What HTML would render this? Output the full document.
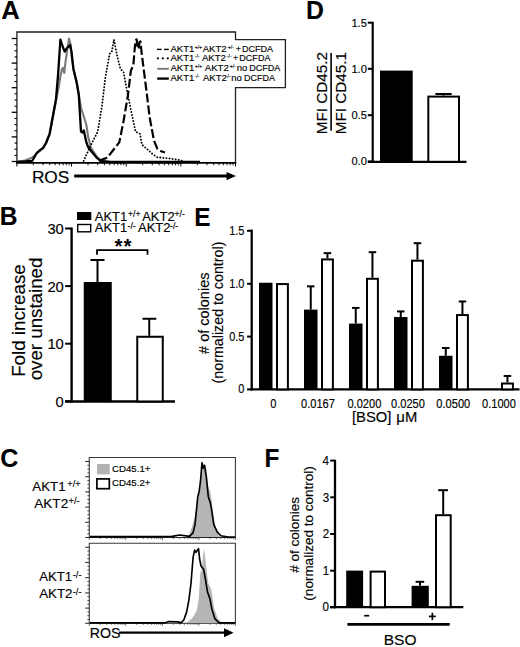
<!DOCTYPE html>
<html><head><meta charset="utf-8"><style>
html,body{margin:0;padding:0;background:#fff;}
svg{display:block;}
text{font-family:"Liberation Sans",sans-serif;fill:#000;stroke:#000;stroke-width:0.15px;}
text[font-weight="bold"]{stroke-width:0.1px;}
</style></head><body>
<svg width="520" height="647" viewBox="0 0 520 647" font-family="Liberation Sans, sans-serif">
<rect width="520" height="647" fill="#fff"/>
<text transform="translate(1.26,18.8)" font-size="25.6" font-weight="bold" >A</text>
<text transform="translate(-0.14,224.6) scale(0.96,1)" font-size="25.6" font-weight="bold" >B</text>
<text transform="translate(0.17,466.6) scale(0.98,1)" font-size="25.6" font-weight="bold" >C</text>
<text transform="translate(306.04,18.8) scale(0.97,1)" font-size="25.6" font-weight="bold" >D</text>
<text transform="translate(194.37,225.9) scale(0.95,1)" font-size="25.6" font-weight="bold" >E</text>
<text transform="translate(264.57,466.9) scale(0.95,1)" font-size="25.6" font-weight="bold" >F</text>
<path d="M16.9,162.6 V32 H235.5 V39.6 H285.4 V87.7 H235.5 V162.6" fill="none" stroke="#222" stroke-width="1.3"/>
<line x1="16.2" y1="162.8" x2="236.2" y2="162.8" stroke="#000" stroke-width="1.8" />
<line x1="11.7" y1="38.5" x2="16.9" y2="38.5" stroke="#000" stroke-width="1.3" />
<line x1="14.5" y1="44.65" x2="16.9" y2="44.65" stroke="#000" stroke-width="1.1" />
<line x1="14.5" y1="50.8" x2="16.9" y2="50.8" stroke="#000" stroke-width="1.1" />
<line x1="14.5" y1="56.95" x2="16.9" y2="56.95" stroke="#000" stroke-width="1.1" />
<line x1="11.7" y1="63.1" x2="16.9" y2="63.1" stroke="#000" stroke-width="1.3" />
<line x1="14.5" y1="69.25" x2="16.9" y2="69.25" stroke="#000" stroke-width="1.1" />
<line x1="14.5" y1="75.4" x2="16.9" y2="75.4" stroke="#000" stroke-width="1.1" />
<line x1="14.5" y1="81.55" x2="16.9" y2="81.55" stroke="#000" stroke-width="1.1" />
<line x1="11.7" y1="87.7" x2="16.9" y2="87.7" stroke="#000" stroke-width="1.3" />
<line x1="14.5" y1="93.85" x2="16.9" y2="93.85" stroke="#000" stroke-width="1.1" />
<line x1="14.5" y1="100" x2="16.9" y2="100" stroke="#000" stroke-width="1.1" />
<line x1="14.5" y1="106.15" x2="16.9" y2="106.15" stroke="#000" stroke-width="1.1" />
<line x1="11.7" y1="112.3" x2="16.9" y2="112.3" stroke="#000" stroke-width="1.3" />
<line x1="14.5" y1="118.45" x2="16.9" y2="118.45" stroke="#000" stroke-width="1.1" />
<line x1="14.5" y1="124.6" x2="16.9" y2="124.6" stroke="#000" stroke-width="1.1" />
<line x1="14.5" y1="130.75" x2="16.9" y2="130.75" stroke="#000" stroke-width="1.1" />
<line x1="11.7" y1="136.9" x2="16.9" y2="136.9" stroke="#000" stroke-width="1.3" />
<line x1="14.5" y1="143.05" x2="16.9" y2="143.05" stroke="#000" stroke-width="1.1" />
<line x1="14.5" y1="149.2" x2="16.9" y2="149.2" stroke="#000" stroke-width="1.1" />
<line x1="14.5" y1="155.35" x2="16.9" y2="155.35" stroke="#000" stroke-width="1.1" />
<line x1="11.7" y1="161.5" x2="16.9" y2="161.5" stroke="#000" stroke-width="1.3" />
<line x1="16.9" y1="162.8" x2="16.9" y2="166.5" stroke="#000" stroke-width="1" />
<line x1="33.35" y1="162.8" x2="33.35" y2="165.3" stroke="#000" stroke-width="0.9" />
<line x1="42.97" y1="162.8" x2="42.97" y2="165.3" stroke="#000" stroke-width="0.9" />
<line x1="49.8" y1="162.8" x2="49.8" y2="165.3" stroke="#000" stroke-width="0.9" />
<line x1="55.1" y1="162.8" x2="55.1" y2="165.3" stroke="#000" stroke-width="0.9" />
<line x1="59.43" y1="162.8" x2="59.43" y2="165.3" stroke="#000" stroke-width="0.9" />
<line x1="63.08" y1="162.8" x2="63.08" y2="165.3" stroke="#000" stroke-width="0.9" />
<line x1="66.25" y1="162.8" x2="66.25" y2="165.3" stroke="#000" stroke-width="0.9" />
<line x1="69.05" y1="162.8" x2="69.05" y2="165.3" stroke="#000" stroke-width="0.9" />
<line x1="71.55" y1="162.8" x2="71.55" y2="166.5" stroke="#000" stroke-width="1" />
<line x1="88" y1="162.8" x2="88" y2="165.3" stroke="#000" stroke-width="0.9" />
<line x1="97.62" y1="162.8" x2="97.62" y2="165.3" stroke="#000" stroke-width="0.9" />
<line x1="104.45" y1="162.8" x2="104.45" y2="165.3" stroke="#000" stroke-width="0.9" />
<line x1="109.75" y1="162.8" x2="109.75" y2="165.3" stroke="#000" stroke-width="0.9" />
<line x1="114.08" y1="162.8" x2="114.08" y2="165.3" stroke="#000" stroke-width="0.9" />
<line x1="117.73" y1="162.8" x2="117.73" y2="165.3" stroke="#000" stroke-width="0.9" />
<line x1="120.9" y1="162.8" x2="120.9" y2="165.3" stroke="#000" stroke-width="0.9" />
<line x1="123.7" y1="162.8" x2="123.7" y2="165.3" stroke="#000" stroke-width="0.9" />
<line x1="126.2" y1="162.8" x2="126.2" y2="166.5" stroke="#000" stroke-width="1" />
<line x1="142.65" y1="162.8" x2="142.65" y2="165.3" stroke="#000" stroke-width="0.9" />
<line x1="152.27" y1="162.8" x2="152.27" y2="165.3" stroke="#000" stroke-width="0.9" />
<line x1="159.1" y1="162.8" x2="159.1" y2="165.3" stroke="#000" stroke-width="0.9" />
<line x1="164.4" y1="162.8" x2="164.4" y2="165.3" stroke="#000" stroke-width="0.9" />
<line x1="168.73" y1="162.8" x2="168.73" y2="165.3" stroke="#000" stroke-width="0.9" />
<line x1="172.38" y1="162.8" x2="172.38" y2="165.3" stroke="#000" stroke-width="0.9" />
<line x1="175.55" y1="162.8" x2="175.55" y2="165.3" stroke="#000" stroke-width="0.9" />
<line x1="178.35" y1="162.8" x2="178.35" y2="165.3" stroke="#000" stroke-width="0.9" />
<line x1="180.85" y1="162.8" x2="180.85" y2="166.5" stroke="#000" stroke-width="1" />
<line x1="197.3" y1="162.8" x2="197.3" y2="165.3" stroke="#000" stroke-width="0.9" />
<line x1="206.92" y1="162.8" x2="206.92" y2="165.3" stroke="#000" stroke-width="0.9" />
<line x1="213.75" y1="162.8" x2="213.75" y2="165.3" stroke="#000" stroke-width="0.9" />
<line x1="219.05" y1="162.8" x2="219.05" y2="165.3" stroke="#000" stroke-width="0.9" />
<line x1="223.38" y1="162.8" x2="223.38" y2="165.3" stroke="#000" stroke-width="0.9" />
<line x1="227.03" y1="162.8" x2="227.03" y2="165.3" stroke="#000" stroke-width="0.9" />
<line x1="230.2" y1="162.8" x2="230.2" y2="165.3" stroke="#000" stroke-width="0.9" />
<line x1="233" y1="162.8" x2="233" y2="165.3" stroke="#000" stroke-width="0.9" />
<line x1="235.5" y1="162.8" x2="235.5" y2="166.5" stroke="#000" stroke-width="1" />
<polyline points="17,161.8 25,160.5 30,158.6 33,157 36.6,153.5 43.1,148.2 46,143.5 49.6,134.5 52.8,117.5 56,100.5 58.5,88 60.5,76 62,69 63,67.8 64.3,73 65.5,62 67.5,48 69,38.6 70.5,44 72,58 73.6,69.5 76.6,82.5 78.8,95 81,108 84,117 86.4,125 88,136 90.7,147 96.6,156.5 101,160.5 110,162 200,162" fill="none" stroke="#7a7a7a" stroke-width="2.1" stroke-linejoin="round" />
<polyline points="17,162 25,161.5 32.3,160.8 36.6,153.2 40,150.2 43.1,147.8 46,143 49.6,133.8 52.8,116.5 56,99.2 58.2,73.2 60.4,39.7 62.5,46 64.7,51.6 67,48 70.1,45.1 71.5,52 73.4,68.9 76.6,81.9 78.8,94.9 80,115 81,131.6 82.5,132.5 83.8,130.5 86.4,142.4 88,146.8 90.7,150.5 96.6,157.6 101,161.2 110,162 200,162" fill="none" stroke="#000" stroke-width="2.3" stroke-linejoin="round" />
<polyline points="83.6,161 90,146.8 97.7,131.6 102,105.7 105.3,77.6 109.6,53.8 111.8,51.6 113.9,39.7 117.2,56 120.4,68.9 123.6,72.2 126.9,90.5 132.3,116.5 135.5,131.6 139.9,133.8 142,144.6 147.7,149.6 152.8,154.3 157.3,157.3 168.8,158.3 180.4,160.2 184.2,161.6" fill="none" stroke="#000" stroke-width="1.9" stroke-linejoin="round" stroke-dasharray="0.1 3" stroke-linecap="round"/>
<polyline points="98.8,160.8 107.4,157.6 115,147.8 119.3,142.4 123.6,120.8 128,94.9 130.8,71.1 133.4,64.6 134.6,50 135.6,40.5 136.6,39.3 137.6,47 138.6,49 139.6,42 140.5,41.5 141.4,51 142.6,60.5 146.4,90.5 149.6,117 153.9,140.3 157.3,148.7 161.2,151.2 165,152.5" fill="none" stroke="#000" stroke-width="2.2" stroke-linejoin="round" stroke-dasharray="9 3"/>
<line x1="156.9" y1="49.4" x2="161.6" y2="49.4" stroke="#000" stroke-width="1.4" />
<line x1="164" y1="49.4" x2="168.7" y2="49.4" stroke="#000" stroke-width="1.4" />
<circle cx="157.9" cy="58.3" r="1.1" fill="#000"/>
<circle cx="162.85" cy="58.3" r="1.1" fill="#000"/>
<circle cx="167.8" cy="58.3" r="1.1" fill="#000"/>
<line x1="157.2" y1="68.8" x2="168.8" y2="68.8" stroke="#777" stroke-width="1.9" />
<line x1="157.2" y1="78.6" x2="168.8" y2="78.6" stroke="#000" stroke-width="2.3" />
<text transform="translate(170.48,51.5) scale(1.01,1)" font-size="9.5" >AKT1</text>
<text transform="translate(194.65,48.6)" font-size="5.2" >+/+</text>
<text transform="translate(202.68,51.5) scale(1.01,1)" font-size="9.5" >AKT2</text>
<text transform="translate(227.65,48.6)" font-size="5.2" >+/-</text>
<text transform="translate(236,51.5)" font-size="8.2" >+</text>
<text transform="translate(242.06,51.5) scale(0.95,1)" font-size="9.5" >DCFDA</text>
<text transform="translate(170.48,61.2) scale(1.01,1)" font-size="9.5" >AKT1</text>
<text transform="translate(194.67,58.3)" font-size="5.2" >-/-</text>
<text transform="translate(201.88,61.2) scale(1.01,1)" font-size="9.5" >AKT2</text>
<text transform="translate(226.57,58.3)" font-size="5.2" >-/-</text>
<text transform="translate(233.3,61.2)" font-size="8.2" >+</text>
<text transform="translate(239.36,61.2) scale(0.95,1)" font-size="9.5" >DCFDA</text>
<text transform="translate(170.48,71.2) scale(1.01,1)" font-size="9.5" >AKT1</text>
<text transform="translate(194.65,68.3)" font-size="5.2" >+/+</text>
<text transform="translate(204.78,71.2) scale(1.01,1)" font-size="9.5" >AKT2</text>
<text transform="translate(229.65,68.3)" font-size="5.2" >+/-</text>
<text transform="translate(236.77,71.2)" font-size="9.5" >no</text>
<text transform="translate(249.26,71.2) scale(0.95,1)" font-size="9.5" >DCFDA</text>
<text transform="translate(170.48,80.9) scale(1.01,1)" font-size="9.5" >AKT1</text>
<text transform="translate(194.67,78)" font-size="5.2" >-/-</text>
<text transform="translate(202.88,80.9) scale(1.01,1)" font-size="9.5" >AKT2</text>
<text transform="translate(225.87,78)" font-size="5.2" >-/-</text>
<text transform="translate(231.17,80.9)" font-size="9.5" >no</text>
<text transform="translate(244.06,80.9) scale(0.95,1)" font-size="9.5" >DCFDA</text>
<text transform="translate(31.88,182.6) scale(1.03,1)" font-size="16.8" >ROS</text>
<line x1="74.2" y1="175.9" x2="228" y2="175.9" stroke="#000" stroke-width="3" />
<polygon points="226.5,171.9 236,175.9 226.5,180.2" fill="#000"/>
<rect x="77" y="212" width="14.3" height="8" fill="#000" stroke="none" stroke-width="0"/>
<rect x="77.7" y="224.5" width="13" height="7.3" fill="#fff" stroke="#000" stroke-width="1.4"/>
<text transform="translate(94.77,220.5) scale(1.03,1)" font-size="12.6" >AKT1</text>
<text transform="translate(128.08,217.2)" font-size="8.6" >+/+</text>
<text transform="translate(142.17,220.5) scale(1.03,1)" font-size="12.6" >AKT2</text>
<text transform="translate(174.58,217.2)" font-size="8.6" >+/-</text>
<text transform="translate(94.77,232) scale(1.03,1)" font-size="12.6" >AKT1</text>
<text transform="translate(127.62,228.7)" font-size="8.6" >-/-</text>
<text transform="translate(138.07,232) scale(1.03,1)" font-size="12.6" >AKT2</text>
<text transform="translate(170.02,228.7)" font-size="8.6" >-/-</text>
<line x1="71.6" y1="227.5" x2="71.6" y2="402.6" stroke="#000" stroke-width="2.4" />
<line x1="65.1" y1="401.5" x2="175" y2="401.5" stroke="#000" stroke-width="2.3" />
<line x1="65.1" y1="228.5" x2="71.6" y2="228.5" stroke="#000" stroke-width="2" />
<text transform="translate(47.38,233.9) scale(0.97,1)" font-size="15.2" >30</text>
<line x1="65.1" y1="286.1" x2="71.6" y2="286.1" stroke="#000" stroke-width="2" />
<text transform="translate(47.38,291.5) scale(0.97,1)" font-size="15.2" >20</text>
<line x1="65.1" y1="343.7" x2="71.6" y2="343.7" stroke="#000" stroke-width="2" />
<text transform="translate(47.38,349.1) scale(0.97,1)" font-size="15.2" >10</text>
<line x1="65.1" y1="401.3" x2="71.6" y2="401.3" stroke="#000" stroke-width="2" />
<text transform="translate(55.58,406.7) scale(0.97,1)" font-size="15.2" >0</text>
<rect x="83.75" y="282" width="28" height="119.5" fill="#000" stroke="none" stroke-width="0"/>
<line x1="97.5" y1="283" x2="97.5" y2="260" stroke="#000" stroke-width="2" />
<line x1="90.5" y1="260" x2="104.5" y2="260" stroke="#000" stroke-width="2" />
<rect x="137.25" y="336.75" width="25.5" height="64.7" fill="#fff" stroke="#000" stroke-width="2"/>
<line x1="149.25" y1="335.75" x2="149.25" y2="318.75" stroke="#000" stroke-width="2" />
<line x1="142.5" y1="318.75" x2="156.25" y2="318.75" stroke="#000" stroke-width="2" />
<path d="M97,254.8 V250.1 H147.5 V254.8" fill="none" stroke="#000" stroke-width="1.8"/>
<text transform="translate(114.74,253.2)" font-size="19.5" font-weight="bold" >*</text>
<text transform="translate(123.84,253.2)" font-size="19.5" font-weight="bold" >*</text>
<text transform="translate(24.6,375.3) rotate(-90)" x="-1.54" y="0" font-size="18.75">Fold increase</text>
<text transform="translate(41.6,379.5) rotate(-90)" x="-0.79" y="0" font-size="18.7">over unstained</text>
<path d="M235.4,537.5 V457.5 H89.3 V537.5" fill="none" stroke="#3a3a3a" stroke-width="1.1"/>
<line x1="89" y1="537.5" x2="235.9" y2="537.5" stroke="#222" stroke-width="1.1" />
<line x1="85.2" y1="461.5" x2="89.3" y2="461.5" stroke="#333" stroke-width="1.1" />
<line x1="87.4" y1="465.3" x2="89.3" y2="465.3" stroke="#444" stroke-width="1" />
<line x1="87.4" y1="469.1" x2="89.3" y2="469.1" stroke="#444" stroke-width="1" />
<line x1="87.4" y1="472.9" x2="89.3" y2="472.9" stroke="#444" stroke-width="1" />
<line x1="85.2" y1="476.7" x2="89.3" y2="476.7" stroke="#333" stroke-width="1.1" />
<line x1="87.4" y1="480.5" x2="89.3" y2="480.5" stroke="#444" stroke-width="1" />
<line x1="87.4" y1="484.3" x2="89.3" y2="484.3" stroke="#444" stroke-width="1" />
<line x1="87.4" y1="488.1" x2="89.3" y2="488.1" stroke="#444" stroke-width="1" />
<line x1="85.2" y1="491.9" x2="89.3" y2="491.9" stroke="#333" stroke-width="1.1" />
<line x1="87.4" y1="495.7" x2="89.3" y2="495.7" stroke="#444" stroke-width="1" />
<line x1="87.4" y1="499.5" x2="89.3" y2="499.5" stroke="#444" stroke-width="1" />
<line x1="87.4" y1="503.3" x2="89.3" y2="503.3" stroke="#444" stroke-width="1" />
<line x1="85.2" y1="507.1" x2="89.3" y2="507.1" stroke="#333" stroke-width="1.1" />
<line x1="87.4" y1="510.9" x2="89.3" y2="510.9" stroke="#444" stroke-width="1" />
<line x1="87.4" y1="514.7" x2="89.3" y2="514.7" stroke="#444" stroke-width="1" />
<line x1="87.4" y1="518.5" x2="89.3" y2="518.5" stroke="#444" stroke-width="1" />
<line x1="85.2" y1="522.3" x2="89.3" y2="522.3" stroke="#333" stroke-width="1.1" />
<line x1="87.4" y1="526.1" x2="89.3" y2="526.1" stroke="#444" stroke-width="1" />
<line x1="87.4" y1="529.9" x2="89.3" y2="529.9" stroke="#444" stroke-width="1" />
<line x1="87.4" y1="533.7" x2="89.3" y2="533.7" stroke="#444" stroke-width="1" />
<line x1="85.2" y1="537.5" x2="89.3" y2="537.5" stroke="#333" stroke-width="1.1" />
<line x1="89.3" y1="537.5" x2="89.3" y2="540.1" stroke="#444" stroke-width="0.8" />
<line x1="100.3" y1="537.5" x2="100.3" y2="539.1" stroke="#444" stroke-width="0.8" />
<line x1="106.73" y1="537.5" x2="106.73" y2="539.1" stroke="#444" stroke-width="0.8" />
<line x1="111.29" y1="537.5" x2="111.29" y2="539.1" stroke="#444" stroke-width="0.8" />
<line x1="114.83" y1="537.5" x2="114.83" y2="539.1" stroke="#444" stroke-width="0.8" />
<line x1="117.72" y1="537.5" x2="117.72" y2="539.1" stroke="#444" stroke-width="0.8" />
<line x1="120.17" y1="537.5" x2="120.17" y2="539.1" stroke="#444" stroke-width="0.8" />
<line x1="122.29" y1="537.5" x2="122.29" y2="539.1" stroke="#444" stroke-width="0.8" />
<line x1="124.15" y1="537.5" x2="124.15" y2="539.1" stroke="#444" stroke-width="0.8" />
<line x1="125.82" y1="537.5" x2="125.82" y2="540.1" stroke="#444" stroke-width="0.8" />
<line x1="136.82" y1="537.5" x2="136.82" y2="539.1" stroke="#444" stroke-width="0.8" />
<line x1="143.25" y1="537.5" x2="143.25" y2="539.1" stroke="#444" stroke-width="0.8" />
<line x1="147.82" y1="537.5" x2="147.82" y2="539.1" stroke="#444" stroke-width="0.8" />
<line x1="151.35" y1="537.5" x2="151.35" y2="539.1" stroke="#444" stroke-width="0.8" />
<line x1="154.25" y1="537.5" x2="154.25" y2="539.1" stroke="#444" stroke-width="0.8" />
<line x1="156.69" y1="537.5" x2="156.69" y2="539.1" stroke="#444" stroke-width="0.8" />
<line x1="158.81" y1="537.5" x2="158.81" y2="539.1" stroke="#444" stroke-width="0.8" />
<line x1="160.68" y1="537.5" x2="160.68" y2="539.1" stroke="#444" stroke-width="0.8" />
<line x1="162.35" y1="537.5" x2="162.35" y2="540.1" stroke="#444" stroke-width="0.8" />
<line x1="173.35" y1="537.5" x2="173.35" y2="539.1" stroke="#444" stroke-width="0.8" />
<line x1="179.78" y1="537.5" x2="179.78" y2="539.1" stroke="#444" stroke-width="0.8" />
<line x1="184.34" y1="537.5" x2="184.34" y2="539.1" stroke="#444" stroke-width="0.8" />
<line x1="187.88" y1="537.5" x2="187.88" y2="539.1" stroke="#444" stroke-width="0.8" />
<line x1="190.77" y1="537.5" x2="190.77" y2="539.1" stroke="#444" stroke-width="0.8" />
<line x1="193.22" y1="537.5" x2="193.22" y2="539.1" stroke="#444" stroke-width="0.8" />
<line x1="195.34" y1="537.5" x2="195.34" y2="539.1" stroke="#444" stroke-width="0.8" />
<line x1="197.2" y1="537.5" x2="197.2" y2="539.1" stroke="#444" stroke-width="0.8" />
<line x1="198.88" y1="537.5" x2="198.88" y2="540.1" stroke="#444" stroke-width="0.8" />
<line x1="209.87" y1="537.5" x2="209.87" y2="539.1" stroke="#444" stroke-width="0.8" />
<line x1="216.3" y1="537.5" x2="216.3" y2="539.1" stroke="#444" stroke-width="0.8" />
<line x1="220.87" y1="537.5" x2="220.87" y2="539.1" stroke="#444" stroke-width="0.8" />
<line x1="224.4" y1="537.5" x2="224.4" y2="539.1" stroke="#444" stroke-width="0.8" />
<line x1="227.3" y1="537.5" x2="227.3" y2="539.1" stroke="#444" stroke-width="0.8" />
<line x1="229.74" y1="537.5" x2="229.74" y2="539.1" stroke="#444" stroke-width="0.8" />
<line x1="231.86" y1="537.5" x2="231.86" y2="539.1" stroke="#444" stroke-width="0.8" />
<line x1="233.73" y1="537.5" x2="233.73" y2="539.1" stroke="#444" stroke-width="0.8" />
<line x1="235.4" y1="537.5" x2="235.4" y2="540.1" stroke="#444" stroke-width="0.8" />
<path d="M235.4,623.2 V543.3 H89.3 V623.2" fill="none" stroke="#3a3a3a" stroke-width="1.1"/>
<line x1="89" y1="623.2" x2="235.9" y2="623.2" stroke="#222" stroke-width="1.1" />
<line x1="85.2" y1="547.3" x2="89.3" y2="547.3" stroke="#333" stroke-width="1.1" />
<line x1="87.4" y1="551.1" x2="89.3" y2="551.1" stroke="#444" stroke-width="1" />
<line x1="87.4" y1="554.9" x2="89.3" y2="554.9" stroke="#444" stroke-width="1" />
<line x1="87.4" y1="558.7" x2="89.3" y2="558.7" stroke="#444" stroke-width="1" />
<line x1="85.2" y1="562.5" x2="89.3" y2="562.5" stroke="#333" stroke-width="1.1" />
<line x1="87.4" y1="566.3" x2="89.3" y2="566.3" stroke="#444" stroke-width="1" />
<line x1="87.4" y1="570.1" x2="89.3" y2="570.1" stroke="#444" stroke-width="1" />
<line x1="87.4" y1="573.9" x2="89.3" y2="573.9" stroke="#444" stroke-width="1" />
<line x1="85.2" y1="577.7" x2="89.3" y2="577.7" stroke="#333" stroke-width="1.1" />
<line x1="87.4" y1="581.5" x2="89.3" y2="581.5" stroke="#444" stroke-width="1" />
<line x1="87.4" y1="585.3" x2="89.3" y2="585.3" stroke="#444" stroke-width="1" />
<line x1="87.4" y1="589.1" x2="89.3" y2="589.1" stroke="#444" stroke-width="1" />
<line x1="85.2" y1="592.9" x2="89.3" y2="592.9" stroke="#333" stroke-width="1.1" />
<line x1="87.4" y1="596.7" x2="89.3" y2="596.7" stroke="#444" stroke-width="1" />
<line x1="87.4" y1="600.5" x2="89.3" y2="600.5" stroke="#444" stroke-width="1" />
<line x1="87.4" y1="604.3" x2="89.3" y2="604.3" stroke="#444" stroke-width="1" />
<line x1="85.2" y1="608.1" x2="89.3" y2="608.1" stroke="#333" stroke-width="1.1" />
<line x1="87.4" y1="611.9" x2="89.3" y2="611.9" stroke="#444" stroke-width="1" />
<line x1="87.4" y1="615.7" x2="89.3" y2="615.7" stroke="#444" stroke-width="1" />
<line x1="87.4" y1="619.5" x2="89.3" y2="619.5" stroke="#444" stroke-width="1" />
<line x1="85.2" y1="623.3" x2="89.3" y2="623.3" stroke="#333" stroke-width="1.1" />
<line x1="89.3" y1="623.2" x2="89.3" y2="625.8" stroke="#444" stroke-width="0.8" />
<line x1="100.3" y1="623.2" x2="100.3" y2="624.8" stroke="#444" stroke-width="0.8" />
<line x1="106.73" y1="623.2" x2="106.73" y2="624.8" stroke="#444" stroke-width="0.8" />
<line x1="111.29" y1="623.2" x2="111.29" y2="624.8" stroke="#444" stroke-width="0.8" />
<line x1="114.83" y1="623.2" x2="114.83" y2="624.8" stroke="#444" stroke-width="0.8" />
<line x1="117.72" y1="623.2" x2="117.72" y2="624.8" stroke="#444" stroke-width="0.8" />
<line x1="120.17" y1="623.2" x2="120.17" y2="624.8" stroke="#444" stroke-width="0.8" />
<line x1="122.29" y1="623.2" x2="122.29" y2="624.8" stroke="#444" stroke-width="0.8" />
<line x1="124.15" y1="623.2" x2="124.15" y2="624.8" stroke="#444" stroke-width="0.8" />
<line x1="125.82" y1="623.2" x2="125.82" y2="625.8" stroke="#444" stroke-width="0.8" />
<line x1="136.82" y1="623.2" x2="136.82" y2="624.8" stroke="#444" stroke-width="0.8" />
<line x1="143.25" y1="623.2" x2="143.25" y2="624.8" stroke="#444" stroke-width="0.8" />
<line x1="147.82" y1="623.2" x2="147.82" y2="624.8" stroke="#444" stroke-width="0.8" />
<line x1="151.35" y1="623.2" x2="151.35" y2="624.8" stroke="#444" stroke-width="0.8" />
<line x1="154.25" y1="623.2" x2="154.25" y2="624.8" stroke="#444" stroke-width="0.8" />
<line x1="156.69" y1="623.2" x2="156.69" y2="624.8" stroke="#444" stroke-width="0.8" />
<line x1="158.81" y1="623.2" x2="158.81" y2="624.8" stroke="#444" stroke-width="0.8" />
<line x1="160.68" y1="623.2" x2="160.68" y2="624.8" stroke="#444" stroke-width="0.8" />
<line x1="162.35" y1="623.2" x2="162.35" y2="625.8" stroke="#444" stroke-width="0.8" />
<line x1="173.35" y1="623.2" x2="173.35" y2="624.8" stroke="#444" stroke-width="0.8" />
<line x1="179.78" y1="623.2" x2="179.78" y2="624.8" stroke="#444" stroke-width="0.8" />
<line x1="184.34" y1="623.2" x2="184.34" y2="624.8" stroke="#444" stroke-width="0.8" />
<line x1="187.88" y1="623.2" x2="187.88" y2="624.8" stroke="#444" stroke-width="0.8" />
<line x1="190.77" y1="623.2" x2="190.77" y2="624.8" stroke="#444" stroke-width="0.8" />
<line x1="193.22" y1="623.2" x2="193.22" y2="624.8" stroke="#444" stroke-width="0.8" />
<line x1="195.34" y1="623.2" x2="195.34" y2="624.8" stroke="#444" stroke-width="0.8" />
<line x1="197.2" y1="623.2" x2="197.2" y2="624.8" stroke="#444" stroke-width="0.8" />
<line x1="198.88" y1="623.2" x2="198.88" y2="625.8" stroke="#444" stroke-width="0.8" />
<line x1="209.87" y1="623.2" x2="209.87" y2="624.8" stroke="#444" stroke-width="0.8" />
<line x1="216.3" y1="623.2" x2="216.3" y2="624.8" stroke="#444" stroke-width="0.8" />
<line x1="220.87" y1="623.2" x2="220.87" y2="624.8" stroke="#444" stroke-width="0.8" />
<line x1="224.4" y1="623.2" x2="224.4" y2="624.8" stroke="#444" stroke-width="0.8" />
<line x1="227.3" y1="623.2" x2="227.3" y2="624.8" stroke="#444" stroke-width="0.8" />
<line x1="229.74" y1="623.2" x2="229.74" y2="624.8" stroke="#444" stroke-width="0.8" />
<line x1="231.86" y1="623.2" x2="231.86" y2="624.8" stroke="#444" stroke-width="0.8" />
<line x1="233.73" y1="623.2" x2="233.73" y2="624.8" stroke="#444" stroke-width="0.8" />
<line x1="235.4" y1="623.2" x2="235.4" y2="625.8" stroke="#444" stroke-width="0.8" />
<polygon points="188,537 190.9,530 194,520 197.8,503 200,488 201.5,472 203,465 204.8,463.3 206.5,470 208,485 210.4,492.6 211.7,501 213.5,515 215.5,527 218,535 220,537" fill="#b5b5b5"/>
<polyline points="90,536.6 172,536.4 179.7,535 189.5,536.4 193,532.9 195,524.6 196.4,510.7 197.8,496.7 199.2,491.2 200.6,480 202,462.7 203.1,468.2 204.5,465.4 206.2,475.9 208.3,496.7 210.4,503 211.7,510.7 213.8,524.6 217.3,532.2 220.8,535.7 228.4,537 235,537" fill="none" stroke="#000" stroke-width="1.65" stroke-linejoin="round" />
<polygon points="186.6,623 192.4,617.9 196.7,610.7 198.9,597.7 200.3,573.2 201.8,568.8 203.2,554.4 204.2,548.7 206.1,566 208.3,583.3 211.2,589 214,607.8 217.6,618.6 222.7,623" fill="#b5b5b5"/>
<polyline points="90,622.9 165,622.9 168.6,621.5 178,621.9 180.9,622.9 183.8,620 186.6,612.1 188.8,600.6 191,583.3 193.1,557.3 194.6,550.1 196,552.3 197,550.8 198.5,548.7 199.6,558.8 201,566 203.7,569.6 205.4,579 207.5,591.9 210,599.1 211.9,609.2 214.8,618.6 219.1,622.9 235,622.9" fill="none" stroke="#000" stroke-width="1.65" stroke-linejoin="round" />
<rect x="97" y="464" width="12.7" height="10.4" fill="#b2b2b2" stroke="none" stroke-width="0"/>
<rect x="96.9" y="478.9" width="12.4" height="9.8" fill="#fff" stroke="#000" stroke-width="1.7"/>
<text transform="translate(112.01,472.1) scale(1.03,1)" font-size="9.4" >CD45.1+</text>
<text transform="translate(112.01,486) scale(1.03,1)" font-size="9.4" >CD45.2+</text>
<text transform="translate(32.37,491) scale(0.97,1)" font-size="13.7" >AKT1</text>
<text transform="translate(67.35,486.6)" font-size="9.2" >+/+</text>
<text transform="translate(34.27,507.7) scale(0.99,1)" font-size="13.7" >AKT2</text>
<text transform="translate(68.55,503.7)" font-size="9.2" >+/-</text>
<text transform="translate(39.17,581.2) scale(0.99,1)" font-size="13.3" >AKT1</text>
<text transform="translate(72.79,578.1)" font-size="9.2" >-/-</text>
<text transform="translate(39.17,598.3)" font-size="13.3" >AKT2</text>
<text transform="translate(72.79,594.9)" font-size="9.2" >-/-</text>
<text transform="translate(89.84,637.9) scale(1.02,1)" font-size="13.9" >ROS</text>
<line x1="119" y1="632.7" x2="226" y2="632.7" stroke="#000" stroke-width="2.3" />
<polygon points="224,628.3 233.6,632.7 224,637.2" fill="#000"/>
<line x1="372.7" y1="21.8" x2="372.7" y2="162.9" stroke="#000" stroke-width="2.2" />
<line x1="367.8" y1="161.8" x2="466.5" y2="161.8" stroke="#000" stroke-width="2.2" />
<line x1="367.8" y1="22.7" x2="372.7" y2="22.7" stroke="#000" stroke-width="2" />
<text transform="translate(351.44,26.64)" font-size="11.1" >1.5</text>
<line x1="367.8" y1="68.8" x2="372.7" y2="68.8" stroke="#000" stroke-width="2" />
<text transform="translate(351.4,72.74)" font-size="11.1" >1.0</text>
<line x1="367.8" y1="115.2" x2="372.7" y2="115.2" stroke="#000" stroke-width="2" />
<text transform="translate(351.44,119.14)" font-size="11.1" >0.5</text>
<line x1="367.8" y1="161.5" x2="372.7" y2="161.5" stroke="#000" stroke-width="2" />
<text transform="translate(351.4,165.44)" font-size="11.1" >0.0</text>
<rect x="380" y="70.6" width="32.7" height="91.2" fill="#000" stroke="none" stroke-width="0"/>
<rect x="428.3" y="96.6" width="30.7" height="65.2" fill="#fff" stroke="#000" stroke-width="2"/>
<line x1="443.6" y1="95.6" x2="443.6" y2="94" stroke="#000" stroke-width="2" />
<line x1="435.4" y1="94" x2="451.7" y2="94" stroke="#000" stroke-width="2" />
<text transform="translate(327.2,133.1) rotate(-90)" x="-1.26" y="0" font-size="15.3">MFI CD45.2</text>
<text transform="translate(346,133.1) rotate(-90)" x="-1.26" y="0" font-size="15.3">MFI CD45.1</text>
<line x1="331.1" y1="53.1" x2="331.1" y2="130.8" stroke="#000" stroke-width="1.6" />
<line x1="251.7" y1="229.6" x2="251.7" y2="390.5" stroke="#000" stroke-width="2.3" />
<line x1="250.6" y1="389.4" x2="519.5" y2="389.4" stroke="#000" stroke-width="2.3" />
<line x1="247.1" y1="230.8" x2="251.7" y2="230.8" stroke="#000" stroke-width="2" />
<text transform="translate(229.19,234.8) scale(0.88,1)" font-size="12.4" >1.5</text>
<line x1="247.1" y1="283.8" x2="251.7" y2="283.8" stroke="#000" stroke-width="2" />
<text transform="translate(229.16,287.8) scale(0.88,1)" font-size="12.4" >1.0</text>
<line x1="247.1" y1="336.6" x2="251.7" y2="336.6" stroke="#000" stroke-width="2" />
<text transform="translate(229.19,340.6) scale(0.88,1)" font-size="12.4" >0.5</text>
<line x1="247.1" y1="389.4" x2="251.7" y2="389.4" stroke="#000" stroke-width="2" />
<text transform="translate(238.26,393.4) scale(0.88,1)" font-size="12.4" >0</text>
<rect x="259" y="282.75" width="13.5" height="106.65" fill="#000" stroke="none" stroke-width="0"/>
<rect x="277" y="284.07" width="10.9" height="105.33" fill="#fff" stroke="#000" stroke-width="2"/>
<text transform="translate(270.32,407.7) scale(0.88,1)" font-size="12.6" >0</text>
<rect x="304" y="309.63" width="13.5" height="79.77" fill="#000" stroke="none" stroke-width="0"/>
<line x1="310.75" y1="309.63" x2="310.75" y2="286.35" stroke="#000" stroke-width="2" />
<line x1="307" y1="286.35" x2="314.5" y2="286.35" stroke="#000" stroke-width="2" />
<rect x="322" y="259.42" width="10.9" height="129.98" fill="#fff" stroke="#000" stroke-width="2"/>
<line x1="327.45" y1="258.42" x2="327.45" y2="253.13" stroke="#000" stroke-width="2" />
<line x1="323.7" y1="253.13" x2="331.2" y2="253.13" stroke="#000" stroke-width="2" />
<text transform="translate(301.01,407.7) scale(0.88,1)" font-size="12.6" >0.0167</text>
<rect x="349" y="323.59" width="13.5" height="65.81" fill="#000" stroke="none" stroke-width="0"/>
<line x1="355.75" y1="323.59" x2="355.75" y2="307.93" stroke="#000" stroke-width="2" />
<line x1="352" y1="307.93" x2="359.5" y2="307.93" stroke="#000" stroke-width="2" />
<rect x="367" y="278.78" width="10.9" height="110.62" fill="#fff" stroke="#000" stroke-width="2"/>
<line x1="372.45" y1="277.78" x2="372.45" y2="252.18" stroke="#000" stroke-width="2" />
<line x1="368.7" y1="252.18" x2="376.2" y2="252.18" stroke="#000" stroke-width="2" />
<text transform="translate(347.44,407.7) scale(0.88,1)" font-size="12.6" >0.0200</text>
<rect x="394" y="317.03" width="13.5" height="72.37" fill="#000" stroke="none" stroke-width="0"/>
<line x1="400.75" y1="317.03" x2="400.75" y2="311.43" stroke="#000" stroke-width="2" />
<line x1="397" y1="311.43" x2="404.5" y2="311.43" stroke="#000" stroke-width="2" />
<rect x="412" y="260.69" width="10.9" height="128.71" fill="#fff" stroke="#000" stroke-width="2"/>
<line x1="417.45" y1="259.69" x2="417.45" y2="243.18" stroke="#000" stroke-width="2" />
<line x1="413.7" y1="243.18" x2="421.2" y2="243.18" stroke="#000" stroke-width="2" />
<text transform="translate(391.04,407.7) scale(0.88,1)" font-size="12.6" >0.0250</text>
<rect x="439" y="355.76" width="13.5" height="33.64" fill="#000" stroke="none" stroke-width="0"/>
<line x1="445.75" y1="355.76" x2="445.75" y2="348.03" stroke="#000" stroke-width="2" />
<line x1="442" y1="348.03" x2="449.5" y2="348.03" stroke="#000" stroke-width="2" />
<rect x="457" y="315.07" width="10.9" height="74.33" fill="#fff" stroke="#000" stroke-width="2"/>
<line x1="462.45" y1="314.07" x2="462.45" y2="301.48" stroke="#000" stroke-width="2" />
<line x1="458.7" y1="301.48" x2="466.2" y2="301.48" stroke="#000" stroke-width="2" />
<text transform="translate(436.34,407.7) scale(0.88,1)" font-size="12.6" >0.0500</text>
<rect x="502" y="383.52" width="10.9" height="5.88" fill="#fff" stroke="#000" stroke-width="2"/>
<line x1="507.45" y1="382.52" x2="507.45" y2="375.96" stroke="#000" stroke-width="2" />
<line x1="503.7" y1="375.96" x2="511.2" y2="375.96" stroke="#000" stroke-width="2" />
<text transform="translate(482.04,407.7) scale(0.88,1)" font-size="12.6" >0.1000</text>
<text transform="translate(351.94,421.8)" font-size="14.8" >[BSO]</text>
<text transform="translate(405.09,421.8)" font-size="14.8" >M</text>
<text x="396.2" y="421.8" font-size="15" font-family="Liberation Serif, serif">&#956;</text>
<text transform="translate(209.3,353.9) rotate(-90)" x="-0.06" y="0" font-size="14.5"># of colonies</text>
<text transform="translate(223.3,382.5) rotate(-90)" x="-0.88" y="0" font-size="14.25">(normalized to control)</text>
<line x1="335" y1="459.8" x2="335" y2="608.3" stroke="#000" stroke-width="2.3" />
<line x1="330" y1="607.2" x2="463.3" y2="607.2" stroke="#000" stroke-width="2.3" />
<line x1="330.2" y1="460.6" x2="335" y2="460.6" stroke="#000" stroke-width="2" />
<text transform="translate(322.49,464.87) scale(0.95,1)" font-size="12.2" >4</text>
<line x1="330.2" y1="497.3" x2="335" y2="497.3" stroke="#000" stroke-width="2" />
<text transform="translate(322.66,501.57) scale(0.95,1)" font-size="12.2" >3</text>
<line x1="330.2" y1="534" x2="335" y2="534" stroke="#000" stroke-width="2" />
<text transform="translate(322.74,538.27) scale(0.95,1)" font-size="12.2" >2</text>
<line x1="330.2" y1="570.7" x2="335" y2="570.7" stroke="#000" stroke-width="2" />
<text transform="translate(322.72,574.97) scale(0.95,1)" font-size="12.2" >1</text>
<line x1="330.2" y1="607.2" x2="335" y2="607.2" stroke="#000" stroke-width="2" />
<text transform="translate(322.61,611.47) scale(0.95,1)" font-size="12.2" >0</text>
<rect x="346.2" y="570.6" width="16.9" height="36.6" fill="#000" stroke="none" stroke-width="0"/>
<rect x="370.6" y="571.6" width="14.4" height="35.6" fill="#fff" stroke="#000" stroke-width="2"/>
<rect x="411.6" y="585.8" width="17.2" height="21.4" fill="#000" stroke="none" stroke-width="0"/>
<line x1="420" y1="585.8" x2="420" y2="581.8" stroke="#000" stroke-width="2" />
<line x1="415.6" y1="581.8" x2="424.2" y2="581.8" stroke="#000" stroke-width="2" />
<rect x="436" y="515.2" width="14.7" height="92" fill="#fff" stroke="#000" stroke-width="2"/>
<line x1="443.2" y1="514.2" x2="443.2" y2="490.2" stroke="#000" stroke-width="2" />
<line x1="438.2" y1="490.2" x2="448" y2="490.2" stroke="#000" stroke-width="2" />
<line x1="364.2" y1="615.7" x2="369.2" y2="615.7" stroke="#000" stroke-width="1.7" />
<line x1="428.9" y1="616.4" x2="435.8" y2="616.4" stroke="#000" stroke-width="1.7" />
<line x1="432.35" y1="612.8" x2="432.35" y2="620.1" stroke="#000" stroke-width="1.7" />
<line x1="347.4" y1="624.3" x2="449.7" y2="624.3" stroke="#000" stroke-width="2.8" />
<text transform="translate(383.73,644.6)" font-size="15.5" >BSO</text>
<text transform="translate(299.4,572.8) rotate(-90)" x="-0.06" y="0" font-size="13.5"># of colonies</text>
<text transform="translate(312.8,599.8) rotate(-90)" x="-0.84" y="0" font-size="13.5">(normalized to control)</text>
</svg></body></html>
